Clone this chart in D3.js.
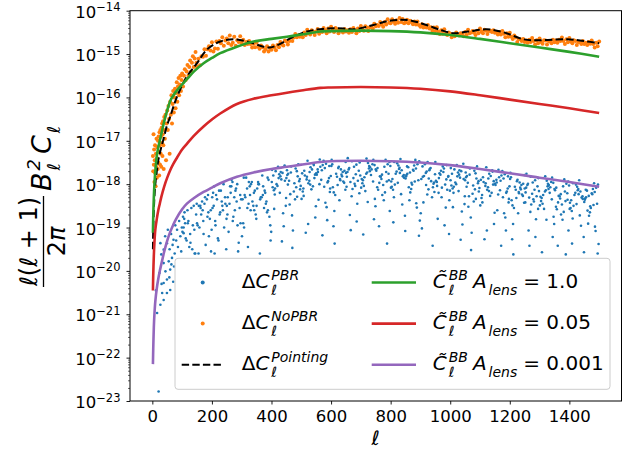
<!DOCTYPE html>
<html lang="en">
<head>
<meta charset="utf-8">
<title>BB spectra</title>
<script src="https://d3js.org/d3.v7.min.js"></script>
<style>
  body { margin: 0; background: #fff; }
  svg text { font-family: "DejaVu Sans", sans-serif; fill: #000; }
</style>
</head>
<body>
<script>
// all y values are log10 of l(l+1)/2pi B_l^2 C_l
var xTicks = [0, 200, 400, 600, 800, 1000, 1200, 1400];
var yTicks = [-23, -22, -21, -20, -19, -18, -17, -16, -15, -14];

var curveEll = [2,3,5,7,10,15,20,25,30,40,50,60,70,80,100,116,140,172,200,228,284,340,400,452,500,564,600,700,800,900,1000,1100,1200,1300,1400,1500];
var lensFull = [-19.12,-18.75,-18.3,-18.0,-17.7,-17.35,-17.15,-17.0,-16.85,-16.55,-16.3,-16.08,-15.96,-15.86,-15.7,-15.58,-15.4,-15.21,-15.09,-14.98,-14.83,-14.71,-14.65,-14.6,-14.55,-14.48,-14.47,-14.46,-14.47,-14.5,-14.56,-14.65,-14.75,-14.85,-14.95,-15.06];
var lens005 = [-20.45,-20.1,-19.65,-19.35,-19.05,-18.8,-18.6,-18.45,-18.3,-18.05,-17.85,-17.68,-17.54,-17.42,-17.2,-17.07,-16.88,-16.67,-16.51,-16.37,-16.15,-16.03,-15.95,-15.89,-15.84,-15.78,-15.77,-15.76,-15.77,-15.8,-15.86,-15.95,-16.05,-16.15,-16.25,-16.36];
var lens0001 = [-22.15,-21.8,-21.3,-21.0,-20.7,-20.4,-20.18,-20.0,-19.85,-19.55,-19.3,-19.1,-18.94,-18.8,-18.58,-18.45,-18.32,-18.18,-18.08,-17.98,-17.83,-17.73,-17.65,-17.6,-17.55,-17.49,-17.47,-17.46,-17.47,-17.5,-17.56,-17.65,-17.75,-17.85,-17.95,-18.06];

var pointingEll = [2,3,5,7,10,15,20,30,36,49,60,83,116,150,183,228,273,318,373,395,418,474,519,586,640,675,742,790,832,870,920,970,1011,1060,1123,1180,1246,1300,1392,1450,1500];
var pointing = [-19.5,-19.05,-18.6,-18.3,-18.0,-17.7,-17.45,-17.15,-17.0,-16.65,-16.44,-15.98,-15.52,-15.21,-14.9,-14.71,-14.66,-14.71,-14.83,-14.85,-14.8,-14.6,-14.48,-14.41,-14.41,-14.43,-14.33,-14.24,-14.21,-14.23,-14.33,-14.45,-14.52,-14.48,-14.43,-14.5,-14.66,-14.68,-14.66,-14.7,-14.75];

var noPbr = [
[2,-17.35],[3,-17.7],[4,-16.85],[5,-17.55],[6,-17.2],[7,-17.95],[8,-17.45],[9,-17.1],[10,-17.75],[11,-18.05],[12,-17.3],[13,-17.6],[14,-16.95],[15,-17.85],[16,-17.4],[17,-17.15],[18,-17.65],[19,-17.0],[20,-17.5],[21,-16.9],[22,-17.25],[23,-17.8],[24,-16.8],[25,-17.1],[26,-17.55],[27,-16.75],[28,-17.3],[29,-16.9],[30,-17.6],[31,-16.7],[32,-17.05],[33,-16.6],[34,-17.35],[35,-16.85],[36,-16.55],[37,-17.1],[38,-17.65],[39,-16.75],[40,-16.45],[42,-16.95],[44,-16.4],[46,-17.45],[48,-16.6],[50,-16.3],[52,-16.75],[54,-16.2],[56,-16.5],[58,-17.3],[60,-16.1],[62,-16.4],[64,-15.95],[66,-16.6],[68,-16.15],[70,-15.85],[72,-16.35],[74,-16.0],[76,-15.8],[78,-16.25],[80,-15.9],[82,-15.65],[84,-16.1],[86,-15.75],[88,-15.55],[90,-15.95],[92,-15.7],[94,-15.5],[96,-15.85],[98,-15.6],[100,-15.45],[103,-15.75],[106,-15.5],[109,-15.35],[112,-15.6],[115,-15.4],[118,-15.25],[121,-15.5],[124,-15.3],[127,-15.15],[130,-15.4],[133,-15.2],[136,-15.05],[139,-15.3],[142,-15.1],[145,-14.95],[148,-15.2],
[150,-15.29],[155,-15.11],[160,-15.26],[165,-15.05],[170,-15.06],[175,-14.89],[180,-15.04],[185,-14.89],[190,-14.82],[195,-14.92],[200,-14.73],[205,-14.94],[210,-14.87],[215,-14.71],[220,-14.88],[225,-14.7],[230,-14.75],[235,-14.61],[240,-14.81],[245,-14.69],[250,-14.64],[255,-14.75],[260,-14.57],[265,-14.79],[270,-14.74],[275,-14.6],[280,-14.81],[285,-14.68],[290,-14.72],[295,-14.59],
[300,-14.74],[305,-14.67],[310,-14.79],[315,-14.72],[320,-14.77],[325,-14.7],[330,-14.77],[335,-14.85],[340,-14.76],[345,-14.84],[350,-14.74],[355,-14.83],[360,-14.88],[365,-14.8],[370,-14.84],[375,-14.94],[380,-14.89],[385,-14.82],[390,-14.94],[395,-14.86],[400,-14.9],[405,-14.8],[410,-14.85],[415,-14.91],[420,-14.79],[425,-14.84],[430,-14.72],[435,-14.78],[440,-14.8],[445,-14.69],[450,-14.71],[455,-14.78],[460,-14.7],[465,-14.61],[470,-14.7],[475,-14.62],[480,-14.54],[485,-14.61],[490,-14.57],[495,-14.6],
[500,-14.56],[505,-14.61],[510,-14.5],[515,-14.56],[520,-14.44],[525,-14.51],[530,-14.55],[535,-14.45],[540,-14.48],[545,-14.56],[550,-14.48],[555,-14.42],[560,-14.53],[565,-14.45],[570,-14.49],[575,-14.4],[580,-14.45],[585,-14.52],[590,-14.41],[595,-14.48],[600,-14.37],[605,-14.45],[610,-14.49],[615,-14.4],[620,-14.43],[625,-14.52],[630,-14.46],[635,-14.44],[640,-14.5],[645,-14.42],[650,-14.48],[655,-14.45],[660,-14.51],[665,-14.43],[670,-14.49],[675,-14.4],[680,-14.45],[685,-14.52],[690,-14.41],[695,-14.47],
[700,-14.35],[705,-14.42],[710,-14.46],[715,-14.36],[720,-14.39],[725,-14.47],[730,-14.38],[735,-14.37],[740,-14.41],[745,-14.3],[750,-14.36],[755,-14.33],[760,-14.35],[765,-14.26],[770,-14.32],[775,-14.37],[780,-14.26],[785,-14.32],[790,-14.2],[795,-14.28],[800,-14.29],[805,-14.2],[810,-14.25],[815,-14.3],[820,-14.22],[825,-14.28],[830,-14.17],[835,-14.26],[840,-14.19],[845,-14.29],[850,-14.27],[855,-14.21],[860,-14.29],[865,-14.23],[870,-14.26],[875,-14.31],[880,-14.25],[885,-14.32],[890,-14.25],[895,-14.33],
[900,-14.37],[905,-14.31],[910,-14.39],[915,-14.35],[920,-14.39],[925,-14.33],[930,-14.41],[935,-14.38],[940,-14.46],[945,-14.39],[950,-14.47],[955,-14.38],[960,-14.48],[965,-14.54],[970,-14.45],[975,-14.53],[980,-14.43],[985,-14.53],[990,-14.56],[995,-14.5],[1000,-14.53],[1005,-14.61],[1010,-14.55],[1015,-14.59],[1020,-14.5],[1025,-14.56],[1030,-14.57],[1035,-14.52],[1040,-14.53],[1045,-14.59],[1050,-14.49],[1055,-14.56],[1060,-14.44],[1065,-14.52],[1070,-14.5],[1075,-14.47],[1080,-14.51],[1085,-14.56],[1090,-14.46],[1095,-14.52],
[1100,-14.41],[1105,-14.48],[1110,-14.52],[1115,-14.44],[1120,-14.46],[1125,-14.54],[1130,-14.47],[1135,-14.46],[1140,-14.49],[1145,-14.45],[1150,-14.51],[1155,-14.49],[1160,-14.55],[1165,-14.49],[1170,-14.55],[1175,-14.47],[1180,-14.53],[1185,-14.61],[1190,-14.52],[1195,-14.6],[1200,-14.51],[1205,-14.6],[1210,-14.65],[1215,-14.57],[1220,-14.62],[1225,-14.72],[1230,-14.65],[1235,-14.66],[1240,-14.7],[1245,-14.65],[1250,-14.72],[1255,-14.69],[1260,-14.74],[1265,-14.67],[1270,-14.72],[1275,-14.63],[1280,-14.7],[1285,-14.78],[1290,-14.68],[1295,-14.75],
[1300,-14.64],[1305,-14.72],[1310,-14.76],[1315,-14.68],[1320,-14.69],[1325,-14.78],[1330,-14.7],[1335,-14.7],[1340,-14.75],[1345,-14.67],[1350,-14.73],[1355,-14.69],[1360,-14.74],[1365,-14.67],[1370,-14.7],[1375,-14.62],[1380,-14.7],[1385,-14.77],[1390,-14.66],[1395,-14.73],[1400,-14.63],[1405,-14.71],[1410,-14.75],[1415,-14.68],[1420,-14.7],[1425,-14.79],[1430,-14.72],[1435,-14.72],[1440,-14.77],[1445,-14.7],[1450,-14.77],[1455,-14.74],[1460,-14.79],[1465,-14.72],[1470,-14.76],[1475,-14.69],[1480,-14.77],[1485,-14.85],[1490,-14.74],[1495,-14.82],[1500,-14.71]
];

var pbr = [
[16,-20.97],[21,-22.78],[27,-20.78],[38,-20.67],[33,-20.51],[49,-20.51],[60,-20.44],[38,-20.28],[49,-20.2],[44,-20.01],[60,-19.97],[38,-19.82],[55,-19.78],[66,-19.7],[38,-19.51],[27,-19.36],[49,-19.36],[71,-19.28],[94,-19.2],[105,-19.13],[83,-19.05],
[24,-20.05],[30,-19.62],[43,-19.2],[52,-19.05],[58,-19.5],[63,-19.15],[68,-19.4],[75,-19.6],[77,-18.95],[80,-19.3],[86,-19.45],[90,-18.85],[97,-19.55],[99,-19.0],[12,-20.45],[31,-20.3],[57,-20.15],[70,-20.25],[64,-19.85],[73,-19.9],
[128,-19.35],[107,-18.8],[142,-19.6],[118,-18.6],[101,-19.1],[136,-18.95],[124,-19.45],[147,-18.7],[112,-19.25],[131,-18.55],[105,-19.0],[144,-19.6],[121,-18.85],[139,-18.5],[115,-19.3],[103,-18.75],[127,-19.15],[149,-18.45],[110,-18.9],[134,-19.5],[119,-18.9],[141,-19.05],[108,-18.65],
[164,-18.7],[190,-19.2],[175,-18.45],[152,-18.95],[197,-19.55],[169,-18.6],[183,-18.35],[158,-19.0],[193,-18.8],[179,-19.4],[161,-18.5],[187,-18.25],[150,-18.9],[172,-19.15],[196,-18.6],[167,-18.4],[155,-19.6],[185,-18.75],[177,-18.3],[199,-19.05],[162,-18.55],[188,-18.65],[171,-18.85],[156,-18.5],
[237,-18.6],[204,-18.2],[222,-19.3],[245,-18.45],[211,-18.85],[230,-18.15],[202,-18.55],[248,-19.5],[217,-18.35],[226,-18.7],[208,-18.05],[241,-19.0],[233,-18.4],[214,-18.25],[249,-18.8],[220,-19.25],[206,-18.5],[239,-18.0],[228,-18.65],[201,-18.3],[244,-18.3],[212,-18.95],[235,-18.5],[224,-18.15],[209,-19.6],
[259,-18.45],[281,-18.1],[296,-18.9],[253,-18.3],[269,-17.95],[277,-18.6],[290,-19.35],[263,-18.2],[250,-18.5],[285,-18.0],[272,-18.75],[298,-18.35],[256,-19.1],[279,-18.15],[266,-17.9],[293,-18.55],[275,-18.3],[288,-19.55],[261,-18.05],[252,-18.7],[283,-18.4],[270,-18.85],[295,-18.25],[265,-18.05],[286,-18.95],
[328,-18.25],[307,-17.85],[342,-18.6],[318,-18.1],[301,-19.2],[336,-18.4],[324,-17.95],[347,-18.7],[312,-18.3],[331,-18.0],[305,-18.9],[344,-18.15],[321,-19.45],[339,-18.5],[315,-17.85],[303,-18.35],[327,-18.05],[349,-18.8],[310,-18.25],[334,-17.95],[319,-18.55],[341,-18.2],[308,-19.0],[330,-18.6],[323,-18.45],
[364,-18.3],[390,-17.9],[375,-18.55],[352,-18.1],[397,-19.3],[369,-17.8],[383,-18.4],[358,-18.0],[393,-18.75],[379,-18.2],[361,-19.6],[387,-17.85],[350,-18.5],[372,-18.05],[396,-18.95],[367,-18.3],[355,-17.95],[385,-18.65],[377,-18.15],[399,-19.1],[362,-18.35],[388,-18.6],[371,-18.25],[356,-18.0],[381,-18.45],
[437,-17.74],[404,-18.07],[422,-17.6],[445,-17.92],[411,-18.24],[430,-17.82],[402,-17.67],[448,-18.5],[417,-18.0],[426,-17.77],[408,-18.14],[441,-18.97],[433,-17.89],[414,-17.7],[449,-18.32],[420,-18.04],[406,-17.8],[439,-18.67],[428,-18.2],[401,-17.95],[444,-17.57],[412,-18.1],[435,-19.32],[424,-17.86],[409,-18.57],[431,-17.72],
[459,-17.92],[481,-17.64],[496,-18.12],[453,-17.79],[469,-18.72],[477,-17.98],[490,-17.54],[463,-18.23],[450,-17.86],[485,-17.7],[472,-19.07],[498,-18.04],[456,-17.76],[479,-18.35],[466,-17.59],[493,-17.93],[475,-18.17],[488,-17.82],[461,-18.47],[452,-17.68],[483,-18.07],[470,-19.47],[495,-17.88],[465,-17.73],[486,-18.29],[455,-18.01],
[528,-17.72],[507,-18.1],[542,-17.56],[518,-17.89],[501,-18.34],[536,-17.66],[524,-17.98],[547,-18.77],[512,-17.8],[531,-17.61],[505,-18.17],[544,-17.86],[521,-17.46],[539,-18.05],[515,-19.12],[503,-17.75],[527,-17.92],[549,-18.51],[510,-17.69],[534,-18.12],[519,-17.83],[541,-17.53],[508,-18.27],[530,-18.01],[523,-18.92],[546,-17.78],
[564,-17.6],[590,-17.93],[575,-17.46],[552,-17.78],[597,-18.1],[569,-17.68],[583,-17.53],[558,-18.36],[593,-17.86],[579,-17.63],[561,-18.0],[587,-18.83],[550,-17.75],[572,-17.56],[596,-18.18],[567,-17.9],[555,-17.66],[585,-18.53],[577,-18.06],[599,-17.81],[562,-17.43],[588,-17.96],[571,-19.18],[556,-17.72],[581,-18.43],[594,-17.58],
[637,-17.82],[604,-17.54],[622,-18.02],[645,-17.69],[611,-18.62],[630,-17.88],[602,-17.44],[648,-18.13],[617,-17.76],[626,-17.6],[608,-18.97],[641,-17.94],[633,-17.66],[614,-18.25],[649,-17.49],[620,-17.83],[606,-18.07],[639,-17.72],[628,-18.37],[601,-17.58],[644,-17.97],[612,-19.37],[635,-17.78],[624,-17.63],[609,-18.19],[631,-17.91],
[659,-17.66],[681,-18.04],[696,-17.5],[653,-17.83],[669,-18.28],[677,-17.6],[690,-17.92],[663,-18.71],[650,-17.74],[685,-17.55],[672,-18.11],[698,-17.8],[656,-17.4],[679,-17.99],[666,-19.06],[693,-17.69],[675,-17.86],[688,-18.45],[661,-17.63],[652,-18.06],[683,-17.77],[670,-17.47],[695,-18.21],[665,-17.95],[686,-18.86],[655,-17.72],
[728,-17.58],[707,-17.91],[742,-17.44],[718,-17.76],[701,-18.08],[736,-17.66],[724,-17.51],[747,-18.34],[712,-17.84],[731,-17.61],[705,-17.98],[744,-18.81],[721,-17.73],[739,-17.54],[715,-18.16],[703,-17.88],[727,-17.64],[749,-18.51],[710,-18.04],[734,-17.79],[719,-17.41],[741,-17.94],[708,-19.16],[730,-17.7],[723,-18.41],[746,-17.56],
[764,-17.82],[790,-17.54],[775,-18.02],[752,-17.69],[797,-18.62],[769,-17.88],[783,-17.44],[758,-18.13],[793,-17.76],[779,-17.6],[761,-18.97],[787,-17.94],[750,-17.66],[772,-18.25],[796,-17.49],[767,-17.83],[755,-18.07],[785,-17.72],[777,-18.37],[799,-17.58],[762,-17.97],[788,-19.37],[771,-17.78],[756,-17.63],[781,-18.19],[794,-17.91],
[837,-17.68],[804,-18.06],[822,-17.52],[845,-17.85],[811,-18.3],[830,-17.62],[802,-17.94],[848,-18.73],[817,-17.76],[826,-17.57],[808,-18.13],[841,-17.82],[833,-17.42],[814,-18.01],[849,-19.08],[820,-17.71],[806,-17.88],[839,-18.47],[828,-17.65],[801,-18.08],[844,-17.79],[812,-17.49],[835,-18.23],[824,-17.97],[809,-18.88],[831,-17.74],
[859,-17.61],[881,-17.94],[896,-17.47],[853,-17.79],[869,-18.11],[877,-17.69],[890,-17.54],[863,-18.37],[850,-17.87],[885,-17.64],[872,-18.01],[898,-18.84],[856,-17.76],[879,-17.57],[866,-18.19],[893,-17.91],[875,-17.67],[888,-18.54],[861,-18.07],[852,-17.82],[883,-17.44],[870,-17.97],[895,-19.19],[865,-17.73],[886,-18.44],[855,-17.59],
[928,-17.87],[907,-17.59],[942,-18.07],[918,-17.74],[901,-18.67],[936,-17.93],[924,-17.49],[947,-18.18],[912,-17.81],[931,-17.65],[905,-19.02],[944,-17.99],[921,-17.71],[939,-18.3],[915,-17.54],[903,-17.88],[927,-18.12],[949,-17.77],[910,-18.42],[934,-17.63],[919,-18.02],[941,-19.42],[908,-17.83],[930,-17.68],[923,-18.24],[946,-17.96],
[964,-17.75],[990,-18.13],[975,-17.59],[952,-17.92],[997,-18.37],[969,-17.69],[983,-18.01],[958,-18.8],[993,-17.83],[979,-17.64],[961,-18.2],[987,-17.89],[950,-17.49],[972,-18.08],[996,-19.15],[967,-17.78],[955,-17.95],[985,-18.54],[977,-17.72],[999,-18.15],[962,-17.86],[988,-17.56],[971,-18.3],[956,-18.04],[981,-18.95],[994,-17.81],
[1037,-17.7],[1004,-18.03],[1022,-17.56],[1045,-17.88],[1011,-18.2],[1030,-17.78],[1002,-17.63],[1048,-18.46],[1017,-17.96],[1026,-17.73],[1008,-18.1],[1041,-18.93],[1033,-17.85],[1014,-17.66],[1049,-18.28],[1020,-18.0],[1006,-17.76],[1039,-18.63],[1028,-18.16],[1001,-17.91],[1044,-17.53],[1012,-18.06],[1035,-19.28],[1024,-17.82],[1009,-18.53],[1031,-17.68],
[1059,-17.97],[1081,-17.69],[1096,-18.17],[1053,-17.84],[1069,-18.77],[1077,-18.03],[1090,-17.59],[1063,-18.28],[1050,-17.91],[1085,-17.75],[1072,-19.12],[1098,-18.09],[1056,-17.81],[1079,-18.4],[1066,-17.64],[1093,-17.98],[1075,-18.22],[1088,-17.87],[1061,-18.52],[1052,-17.73],[1083,-18.12],[1070,-19.52],[1095,-17.93],[1065,-17.78],[1086,-18.34],[1055,-18.06],
[1128,-17.87],[1107,-18.25],[1142,-17.71],[1118,-18.04],[1101,-18.49],[1136,-17.81],[1124,-18.13],[1147,-18.92],[1112,-17.95],[1131,-17.76],[1105,-18.32],[1144,-18.01],[1121,-17.61],[1139,-18.2],[1115,-19.27],[1103,-17.9],[1127,-18.07],[1149,-18.66],[1110,-17.84],[1134,-18.27],[1119,-17.98],[1141,-17.68],[1108,-18.42],[1130,-18.16],[1123,-19.07],[1146,-17.93],
[1164,-17.84],[1190,-18.17],[1175,-17.7],[1152,-18.02],[1197,-18.34],[1169,-17.92],[1183,-17.77],[1158,-18.6],[1193,-18.1],[1179,-17.87],[1161,-18.24],[1187,-19.07],[1150,-17.99],[1172,-17.8],[1196,-18.42],[1167,-18.14],[1155,-17.9],[1185,-18.77],[1177,-18.3],[1199,-18.05],[1162,-17.67],[1188,-18.2],[1171,-19.42],[1156,-17.96],[1181,-18.67],[1194,-17.82],
[1237,-18.12],[1204,-17.84],[1222,-18.32],[1245,-17.99],[1211,-18.92],[1230,-18.18],[1202,-17.74],[1248,-18.43],[1217,-18.06],[1226,-17.9],[1208,-19.27],[1241,-18.24],[1233,-17.96],[1214,-18.55],[1249,-17.79],[1220,-18.13],[1206,-18.37],[1239,-18.02],[1228,-18.67],[1201,-17.88],[1244,-18.27],[1212,-19.62],[1235,-18.08],[1224,-17.93],[1209,-18.49],[1231,-18.21],
[1259,-18.02],[1281,-18.4],[1296,-17.86],[1253,-18.19],[1269,-18.64],[1277,-17.96],[1290,-18.28],[1263,-19.07],[1250,-18.1],[1285,-17.91],[1272,-18.47],[1298,-18.16],[1256,-17.76],[1279,-18.35],[1266,-19.42],[1293,-18.05],[1275,-18.22],[1288,-18.81],[1261,-17.99],[1252,-18.42],[1283,-18.13],[1270,-17.83],[1295,-18.57],[1265,-18.31],[1286,-19.22],[1255,-18.08],
[1328,-17.99],[1307,-18.32],[1342,-17.85],[1318,-18.17],[1301,-18.49],[1336,-18.07],[1324,-17.92],[1347,-18.75],[1312,-18.25],[1331,-18.02],[1305,-18.39],[1344,-19.22],[1321,-18.14],[1339,-17.95],[1315,-18.57],[1303,-18.29],[1327,-18.05],[1349,-18.92],[1310,-18.45],[1334,-18.2],[1319,-17.82],[1341,-18.35],[1308,-19.57],[1330,-18.11],[1323,-18.82],[1346,-17.97],
[1364,-18.27],[1390,-17.99],[1375,-18.47],[1352,-18.14],[1397,-19.07],[1369,-18.33],[1383,-17.89],[1358,-18.58],[1393,-18.21],[1379,-18.05],[1361,-19.42],[1387,-18.39],[1350,-18.11],[1372,-18.7],[1396,-17.94],[1367,-18.28],[1355,-18.52],[1385,-18.17],[1377,-18.82],[1399,-18.03],[1362,-18.42],[1388,-19.62],[1371,-18.23],[1356,-18.08],[1381,-18.64],[1394,-18.36],
[1437,-18.17],[1404,-18.55],[1422,-18.01],[1445,-18.34],[1411,-18.79],[1430,-18.11],[1402,-18.43],[1448,-19.22],[1417,-18.25],[1426,-18.06],[1408,-18.62],[1441,-18.31],[1433,-17.91],[1414,-18.5],[1449,-19.57],[1420,-18.2],[1406,-18.37],[1439,-18.96],[1428,-18.14],[1401,-18.57],[1444,-18.28],[1412,-17.98],[1435,-18.72],[1424,-18.46],[1409,-19.37],[1431,-18.23],
[1459,-18.15],[1481,-18.48],[1496,-18.01],[1453,-18.33],[1469,-18.65],[1477,-18.23],[1490,-18.08],[1463,-18.91],[1450,-18.41],[1485,-18.18],[1472,-18.55],[1498,-19.38],[1456,-18.3],[1479,-18.11],[1466,-18.73],[1493,-18.45],[1475,-18.21],[1488,-19.08],[1461,-18.61],[1452,-18.36],[1483,-17.98],[1470,-18.51],[1495,-19.6],[1465,-18.27],[1486,-18.98],[1455,-18.13]
];

var W = 630, H = 450;
var plotL = 130, plotR = 621.5, plotT = 10.7, plotB = 401;

var svg = d3.select("body").append("svg")
  .attr("width", W)
  .attr("height", H);

var x = d3.scaleLinear().domain([-75, 1575]).range([plotL, plotR]);
var y = d3.scaleLog().domain([1e-23, 1e-14]).range([plotB, plotT]);
function py(v) { return y(Math.pow(10, v)); }

svg.append("clipPath").attr("id", "plotclip")
  .append("rect")
  .attr("x", plotL).attr("y", plotT)
  .attr("width", plotR - plotL).attr("height", plotB - plotT);

var plot = svg.append("g").attr("clip-path", "url(#plotclip)");

// scatter: PBR (blue), NoPBR (orange)
plot.append("g").selectAll("circle")
  .data(pbr)
  .enter().append("circle")
  .attr("cx", function (d) { return x(d[0]); })
  .attr("cy", function (d) { return py(d[1]); })
  .attr("r", 1.3)
  .attr("fill", "#1f77b4");

plot.append("g").selectAll("circle")
  .data(noPbr)
  .enter().append("circle")
  .attr("cx", function (d) { return x(d[0]); })
  .attr("cy", function (d) { return py(d[1]); })
  .attr("r", 2)
  .attr("fill", "#ff7f0e");

var line = d3.line()
  .x(function (d) { return x(d[0]); })
  .y(function (d) { return py(d[1]); })
  .curve(d3.curveCatmullRom.alpha(0.5));

function zip(a, b) { return a.map(function (v, i) { return [v, b[i]]; }); }

plot.append("path")
  .datum(zip(pointingEll, pointing))
  .attr("d", line)
  .attr("fill", "none")
  .attr("stroke", "#000")
  .attr("stroke-width", 2)
  .attr("stroke-dasharray", "7.4,3.2");

var lensCurves = [
  { vals: lensFull, color: "#2ca02c" },
  { vals: lens005, color: "#d62728" },
  { vals: lens0001, color: "#9467bd" }
];
lensCurves.forEach(function (c) {
  plot.append("path")
    .datum(zip(curveEll, c.vals))
    .attr("d", line)
    .attr("fill", "none")
    .attr("stroke", c.color)
    .attr("stroke-width", 2.6);
});

// frame
svg.append("rect")
  .attr("x", plotL).attr("y", plotT)
  .attr("width", plotR - plotL).attr("height", plotB - plotT)
  .attr("fill", "none")
  .attr("stroke", "#000")
  .attr("stroke-width", 1);

// x axis
var xAxis = svg.append("g")
  .attr("transform", "translate(0," + plotB + ")")
  .call(d3.axisBottom(x).tickValues(xTicks).tickSize(3.5).tickPadding(3.5).tickFormat(d3.format("d")));
xAxis.select(".domain").remove();
xAxis.selectAll("line").attr("stroke", "#000").attr("stroke-width", 0.9);
xAxis.selectAll("text")
  .attr("font-family", "DejaVu Sans")
  .attr("font-size", 16.5)
  .attr("dy", null)
  .attr("y", 20.5);

// y axis minor ticks
var minor = [];
yTicks.forEach(function (e) {
  if (e === -14) return;
  for (var k = 2; k <= 9; k++) minor.push(k * Math.pow(10, e));
});
var yMinor = svg.append("g")
  .attr("transform", "translate(" + plotL + ",0)")
  .call(d3.axisLeft(y).tickValues(minor).tickSize(2).tickFormat(""));
yMinor.select(".domain").remove();
yMinor.selectAll("line").attr("stroke", "#000").attr("stroke-width", 0.6);

// y axis major ticks with 10^n labels
var yAxis = svg.append("g")
  .attr("transform", "translate(" + plotL + ",0)")
  .call(d3.axisLeft(y).tickValues(yTicks.map(function (e) { return Math.pow(10, e); }))
    .tickSize(3.5).tickFormat(""));
yAxis.select(".domain").remove();
yAxis.selectAll("line").attr("stroke", "#000").attr("stroke-width", 0.9);
yAxis.selectAll(".tick text").each(function (d) {
  var t = d3.select(this)
    .attr("dy", null)
    .attr("x", -9.5)
    .attr("y", 6.5)
    .attr("font-family", "DejaVu Sans")
    .attr("font-size", 16.5);
  t.append("tspan").text("10");
  t.append("tspan")
    .attr("dy", -6.5)
    .attr("font-size", 11.5)
    .text("\u2212" + Math.abs(Math.round(Math.log10(d))));
});

// x label
svg.append("text")
  .attr("x", (plotL + plotR) / 2)
  .attr("y", 445)
  .attr("text-anchor", "middle")
  .attr("font-size", 20)
  .style("font-style", "italic")
  .text("\u2113");

// y label: l(l+1)/2pi B_l^2 C_l, rotated
var yl = svg.append("g").attr("transform", "rotate(-90)");
var num = yl.append("text")
  .attr("x", -241.5).attr("y", 37)
  .attr("text-anchor", "middle")
  .attr("font-size", 24);
num.append("tspan").style("font-style", "italic").text("\u2113");
num.append("tspan").text("(");
num.append("tspan").style("font-style", "italic").text("\u2113");
num.append("tspan").text(" + 1)");
yl.append("line")
  .attr("x1", -287).attr("x2", -196)
  .attr("y1", 43.5).attr("y2", 43.5)
  .attr("stroke", "#000").attr("stroke-width", 1.3);
var den = yl.append("text")
  .attr("x", -241.5).attr("y", 65)
  .attr("text-anchor", "middle")
  .attr("font-size", 24);
den.append("tspan").text("2");
den.append("tspan").style("font-style", "italic").text("\u03c0");

var bc = yl.append("g");
function scripted(g, x0, yb, mainParts, sub, sup, size, ssize) {
  var t = g.append("text").attr("x", x0).attr("y", yb).attr("font-size", size);
  mainParts.forEach(function (p) {
    var s = t.append("tspan").text(p[0]);
    if (p[1]) s.style("font-style", "italic");
  });
  var w = t.node().getComputedTextLength() + 2;
  var ws = 0, wb = 0;
  if (sup) {
    var ts = g.append("text").attr("x", x0 + w).attr("y", yb - size * 0.42)
      .attr("font-size", ssize).style("font-style", "italic").text(sup);
    ws = ts.node().getComputedTextLength();
  }
  if (sub) {
    var tb = g.append("text").attr("x", x0 + w).attr("y", yb + size * 0.32)
      .attr("font-size", ssize).style("font-style", "italic").text(sub);
    wb = tb.node().getComputedTextLength();
  }
  return x0 + w + Math.max(ws, wb);
}
var xb = scripted(bc, -191, 51, [["B", true]], "\u2113", "2", 27, 18);
scripted(bc, xb + 5, 51, [["C", true]], "\u2113", null, 27, 18);

// legend
var lg = svg.append("g");
lg.append("rect")
  .attr("x", 175).attr("y", 258.3)
  .attr("width", 435).attr("height", 131)
  .attr("rx", 3)
  .attr("fill", "#fff").attr("fill-opacity", 0.8)
  .attr("stroke", "#cccccc").attr("stroke-width", 1);

var rowY = [282.5, 323.6, 364.7];
lg.append("circle").attr("cx", 202.7).attr("cy", rowY[0]).attr("r", 2).attr("fill", "#1f77b4");
lg.append("circle").attr("cx", 202.7).attr("cy", rowY[1]).attr("r", 2).attr("fill", "#ff7f0e");
lg.append("line")
  .attr("x1", 181.7).attr("x2", 222.7)
  .attr("y1", rowY[2]).attr("y2", rowY[2])
  .attr("stroke", "#000").attr("stroke-width", 2)
  .attr("stroke-dasharray", "7.4,3.2");

var leftNames = ["PBR", "NoPBR", "Pointing"];
leftNames.forEach(function (n, i) {
  scripted(lg, 241.7, rowY[i] + 5.6, [["\u0394", false], ["C", true]], "\u2113", n, 20, 14);
});

var lensLabels = ["1.0", "0.05", "0.001"];
lensCurves.forEach(function (c, i) {
  lg.append("line")
    .attr("x1", 371.7).attr("x2", 416)
    .attr("y1", rowY[i]).attr("y2", rowY[i])
    .attr("stroke", c.color).attr("stroke-width", 2.6);
  var yb = rowY[i] + 5.6;
  var xa = scripted(lg, 432.7, yb, [["C\u0303", true]], "\u2113", "BB", 20, 14);
  var xl = scripted(lg, xa + 5, yb, [["A", true]], "lens", null, 20, 14);
  lg.append("text")
    .attr("x", xl + 6).attr("y", yb)
    .attr("font-size", 20)
    .text("= " + lensLabels[i]);
});
</script>
</body>
</html>
